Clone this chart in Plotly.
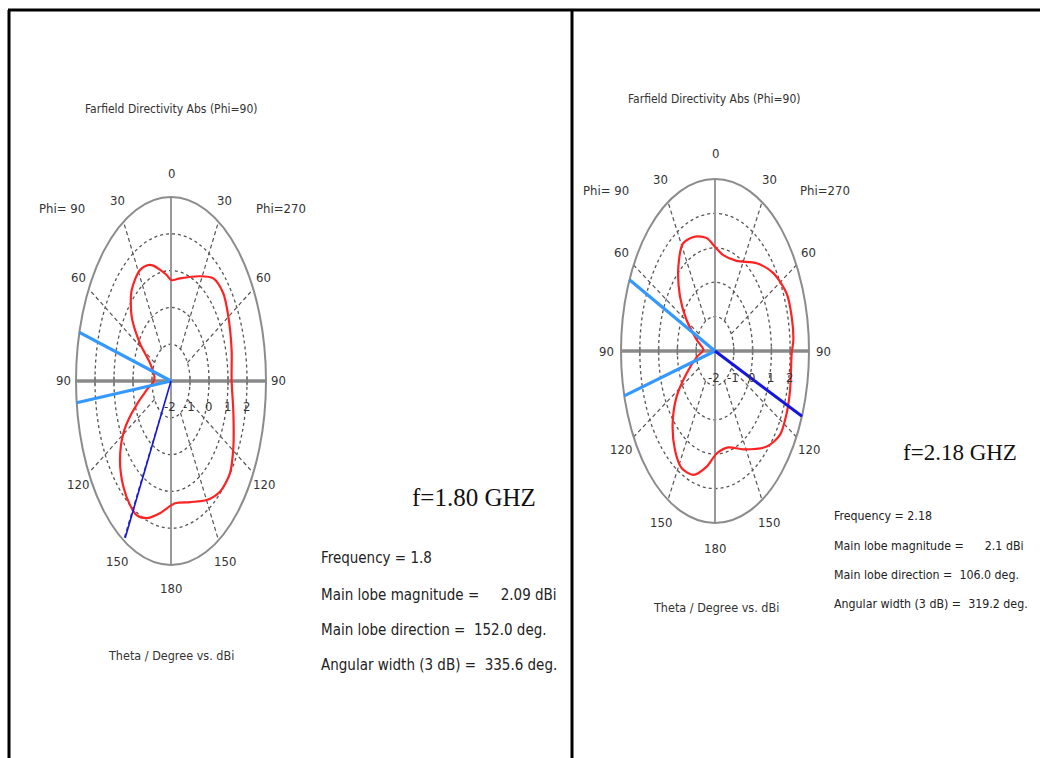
import numpy as np
import plotly.graph_objects as go

W, H = 1040, 758

# ---------------- data ----------------
# display angle, degrees clockwise from top; gain in dBi (plot centre = -2 dBi)
left_angle = [0.6, 9.6, 28.2, 38.6, 49.1, 59.9, 75.2, 89.5, 105.0, 118.6, 129.0, 139.4,
              149.8, 163.0, 176.4, 189.2, 198.9, 206.4, 212.7, 221.2, 231.3, 240.5, 247.0,
              259.4, 268.0, 278.0, 293.6, 302.0, 310.2, 320.0, 331.6, 339.3, 343.5, 349.1, 355.4]
left_gain = [0.74, 0.83, 1.23, 1.57, 1.64, 1.49, 1.30, 1.19, 1.40, 1.74, 1.99, 1.96,
             1.74, 1.44, 1.33, 1.64, 1.94, 2.07, 2.00, 1.81, 1.44, 0.88, 0.25,
             -0.70, -1.07, -1.12, -0.80, -0.08, 0.71, 1.22, 1.43, 1.37, 1.27, 1.08, 0.89]

right_angle = [0.0, 9.0, 23.7, 41.0, 53.9, 66.2, 76.2, 85.6, 91.0, 105.8, 115.4, 125.2,
               135.3, 152.2, 165.8, 178.3, 187.5, 197.7, 207.4, 216.5, 227.0, 236.9, 246.7,
               260.0, 272.8, 288.3, 300.8, 310.3, 321.5, 331.6, 342.3, 352.4]
right_gain = [1.03, 0.82, 0.86, 1.38, 1.84, 2.16, 2.20, 2.18, 2.08, 2.15, 2.22, 2.23,
              1.91, 1.23, 0.89, 0.98, 1.39, 1.78, 1.84, 1.58, 1.08, 0.44, -0.36,
              -1.02, -1.38, -0.98, -0.24, 0.44, 1.13, 1.56, 1.49, 1.31]

# main lobe direction line and 3 dB limit lines (display angle, cw from top)
left_main_dir = 209.5
left_3db_dirs = [285.3, 263.2]
right_main_dir = 112.3
right_3db_dirs = [294.5, 254.9]

r_min_db = -2.0          # value at the centre
ring_values = [-2, -1, 0, 1, 2]
outer_value = 3.0
angle_labels = [0, 30, 60, 90, 120, 150, 180, 150, 120, 90, 60, 30]
angle_label_pos = [0, 30, 60, 90, 120, 150, 180, 210, 240, 270, 300, 330]

titles = ["Farfield Directivity Abs (Phi=90)", "Farfield Directivity Abs (Phi=90)"]
freq_titles = ["f=1.80 GHZ", "f=2.18 GHZ"]
info_left = ["Frequency = 1.8", "Main lobe magnitude =     2.09 dBi",
             "Main lobe direction =  152.0 deg.", "Angular width (3 dB) =  335.6 deg."]
info_right = ["Frequency = 2.18", "Main lobe magnitude =      2.1 dBi",
              "Main lobe direction =  106.0 deg.", "Angular width (3 dB) =  319.2 deg."]

# ---------------- helpers ----------------
def PX(px):
    return px / W


def PY(py):
    return 1 - py / H


def nb(s):
    return s.replace(" ", "\u00a0")


NARROW = "Liberation Sans Narrow, Arial Narrow, DejaVu Sans Condensed, sans-serif"
SERIF = "Liberation Serif, Times New Roman, serif"


def ann(x, y, text, size, xref="paper", yref="paper", family=NARROW, color="#333",
        xanchor="center"):
    return dict(x=x, y=y, xref=xref, yref=yref, text=text, showarrow=False,
                xanchor=xanchor, yanchor="middle",
                font=dict(family=family, size=size, color=color))


fig = go.Figure()
shapes = []
annotations = []

panels = [
    dict(ax="x", ay="y", cx=171, cy=381, sx=19.0, sy=36.8, box=(20, 330, 140, 620),
         angle=left_angle, gain=left_gain, main=left_main_dir, d3=left_3db_dirs,
         main_w=1.6, main_len=4.9, lab_r=5.65, tick_dy=0.70,
         title_xy=(171, 109), phi_l=(62, 208), phi_r=(281, 208), theta_xy=(171, 655)),
    dict(ax="x2", ay="y2", cx=715, cy=351, sx=18.8, sy=34.4, box=(585, 845, 130, 580),
         angle=right_angle, gain=right_gain, main=right_main_dir, d3=right_3db_dirs,
         main_w=3.0, main_len=5.0, lab_r=5.75, tick_dy=0.78,
         title_xy=(714, 99), phi_l=(606, 190), phi_r=(825, 190), theta_xy=(716, 607)),
]

layout_axes = {}
for i, p in enumerate(panels):
    x0, x1, y0, y1 = p["box"]
    xname = "xaxis" if i == 0 else "xaxis2"
    yname = "yaxis" if i == 0 else "yaxis2"
    layout_axes[xname] = dict(domain=[PX(x0), PX(x1)],
                              range=[(x0 - p["cx"]) / p["sx"], (x1 - p["cx"]) / p["sx"]],
                              visible=False, fixedrange=True)
    layout_axes[yname] = dict(domain=[PY(y1), PY(y0)],
                              range=[(p["cy"] - y1) / p["sy"], (p["cy"] - y0) / p["sy"]],
                              visible=False, fixedrange=True)
    if i == 1:
        layout_axes[xname]["anchor"] = "y2"
        layout_axes[yname]["anchor"] = "x2"

    xr, yr = p["ax"], p["ay"]
    R = outer_value - r_min_db

    # dotted rings
    for k in range(1, 5):
        shapes.append(dict(type="circle", xref=xr, yref=yr, x0=-k, x1=k, y0=-k, y1=k,
                           line=dict(color="#555555", width=1.3, dash="dot"), layer="below"))
    # radial dashed lines
    for a in [30, 60, 120, 150, 210, 240, 300, 330]:
        t = np.radians(a)
        shapes.append(dict(type="line", xref=xr, yref=yr,
                           x0=1 * np.sin(t), y0=1 * np.cos(t), x1=R * np.sin(t), y1=R * np.cos(t),
                           line=dict(color="#555555", width=1.2, dash="4px,3px"), layer="below"))
    # solid axes
    shapes.append(dict(type="line", xref=xr, yref=yr, x0=0, x1=0, y0=-R, y1=R,
                       line=dict(color="#999999", width=2), layer="below"))
    shapes.append(dict(type="line", xref=xr, yref=yr, x0=-R, x1=R, y0=0, y1=0,
                       line=dict(color="#8a8a8a", width=3.5), layer="below"))
    # outer ring
    shapes.append(dict(type="circle", xref=xr, yref=yr, x0=-R, x1=R, y0=-R, y1=R,
                       line=dict(color="#8c8c8c", width=2), layer="below"))
    # small ticks on horizontal axis
    for k in range(1, 5):
        for sgn in (-1, 1):
            shapes.append(dict(type="line", xref=xr, yref=yr, x0=sgn * k, x1=sgn * k,
                               y0=-0.12, y1=0.12, line=dict(color="#777777", width=1.5),
                               layer="below"))

    # red pattern
    ang = np.radians(np.array(p["angle"] + [p["angle"][0]]))
    rr = np.array(p["gain"] + [p["gain"][0]]) - r_min_db
    fig.add_trace(go.Scatter(x=rr * np.sin(ang), y=rr * np.cos(ang), xaxis=xr, yaxis=yr,
                             mode="lines", line=dict(color="#ff2222", width=2.2, shape="spline",
                                                     smoothing=0.8),
                             hoverinfo="skip", showlegend=False))
    # 3 dB lines (light blue)
    for a in p["d3"]:
        t = np.radians(a)
        fig.add_trace(go.Scatter(x=[0, R * np.sin(t)], y=[0, R * np.cos(t)], xaxis=xr, yaxis=yr,
                                 mode="lines", line=dict(color="#3399ff", width=3.2),
                                 hoverinfo="skip", showlegend=False))
    # main lobe line (dark blue)
    t = np.radians(p["main"])
    L = p["main_len"]
    fig.add_trace(go.Scatter(x=[0, L * np.sin(t)], y=[0, L * np.cos(t)], xaxis=xr, yaxis=yr,
                             mode="lines", line=dict(color="#1515e0", width=p["main_w"]),
                             hoverinfo="skip", showlegend=False))

    # ring value labels
    for k, v in enumerate(ring_values):
        annotations.append(ann(k - 0.05, -p["tick_dy"], str(v), 13, xref=xr, yref=yr))
    # angle labels
    for lab, a in zip(angle_labels, angle_label_pos):
        t = np.radians(a)
        annotations.append(ann(p["lab_r"] * np.sin(t), p["lab_r"] * np.cos(t), str(lab), 13,
                               xref=xr, yref=yr))
    # titles and side labels
    tx, ty = p["title_xy"]
    annotations.append(ann(PX(tx), PY(ty), titles[i], 12))
    annotations.append(ann(PX(p["phi_l"][0]), PY(p["phi_l"][1]), nb("Phi= 90"), 13))
    annotations.append(ann(PX(p["phi_r"][0]), PY(p["phi_r"][1]), "Phi=270", 13))
    annotations.append(ann(PX(p["theta_xy"][0]), PY(p["theta_xy"][1]),
                           nb("Theta / Degree vs. dBi"), 12.5))

# frequency headings
annotations.append(ann(PX(474), PY(497), freq_titles[0], 25, family=SERIF, color="#111"))
annotations.append(ann(PX(960), PY(452), freq_titles[1], 23, family=SERIF, color="#111"))

# info blocks
for txt, py in zip(info_left, [558, 595, 630, 665]):
    annotations.append(ann(PX(319), PY(py), nb(txt), 15, color="#222", xanchor="left"))
for txt, py in zip(info_right, [516, 546, 575, 604]):
    annotations.append(ann(PX(832), PY(py), nb(txt), 12.3, color="#222", xanchor="left"))

# table borders
shapes.append(dict(type="line", xref="paper", yref="paper", x0=PX(8), x1=1, y0=PY(10), y1=PY(10),
                   line=dict(color="black", width=3)))
shapes.append(dict(type="line", xref="paper", yref="paper", x0=PX(9), x1=PX(9), y0=PY(10), y1=0,
                   line=dict(color="black", width=3)))
shapes.append(dict(type="line", xref="paper", yref="paper", x0=PX(572), x1=PX(572), y0=PY(10),
                   y1=0, line=dict(color="black", width=3)))

fig.update_layout(width=W, height=H, margin=dict(l=0, r=0, t=0, b=0),
                  paper_bgcolor="white", plot_bgcolor="rgba(0,0,0,0)",
                  shapes=shapes, annotations=annotations, showlegend=False, **layout_axes)

fig.write_html("out.html", config={"displayModeBar": False},
               post_script="document.body.style.margin='0';document.body.style.overflow='hidden';")
